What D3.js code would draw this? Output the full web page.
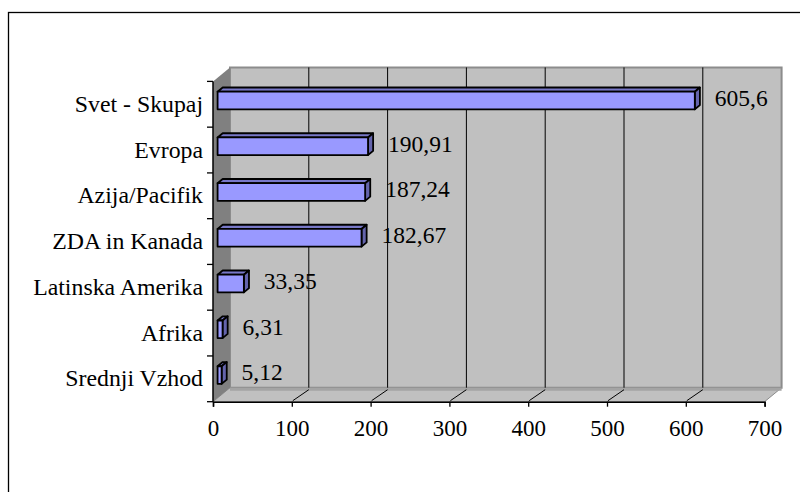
<!DOCTYPE html>
<html>
<head>
<meta charset="utf-8">
<script src="https://cdn.jsdelivr.net/npm/d3@7"></script>
<style>
  html, body { margin: 0; padding: 0; background: #fff; }
  svg { display: block; }
  text { font-family: "Liberation Serif", "Times New Roman", serif; fill: #000; }
</style>
</head>
<body>
<svg id="chart" width="800" height="492"></svg>
<script>
// Regions, top to bottom
const categories = ["Svet - Skupaj", "Evropa", "Azija/Pacifik", "ZDA in Kanada",
                    "Latinska Amerika", "Afrika", "Srednji Vzhod"];
const values = [605.6, 190.91, 187.24, 182.67, 33.35, 6.31, 5.12];
const valueLabels = ["605,6", "190,91", "187,24", "182,67", "33,35", "6,31", "5,12"];
const xTicks = [0, 100, 200, 300, 400, 500, 600, 700];

const FONT = "'Liberation Serif','Times New Roman',serif";
const svg = d3.select("#chart");

// Front-plane plot area and the 3D depth offset
const front = { left: 213, right: 764.6, top: 81.4, bottom: 401.7 };
const depth = { dx: 17, dy: -14 };
const P = (x, y, d) => [x + depth.dx * d, y + depth.dy * d];

const x = d3.scaleLinear().domain([0, 700]).range([front.left, front.right]);
const y = d3.scaleBand().domain(categories).range([front.top, front.bottom]).paddingInner(0).paddingOuter(0);

const line = d3.line();
const poly = pts => line(pts) + "Z";

// Outer chart frame
svg.append("rect")
  .attr("x", 8.5).attr("y", 12.5).attr("width", 820).attr("height", 520)
  .attr("fill", "#fff").attr("stroke", "#000").attr("stroke-width", 1.3);

// Back wall
svg.append("path")
  .attr("d", poly([P(front.left, front.top, 1), P(front.right, front.top, 1),
                   P(front.right, front.bottom, 1), P(front.left, front.bottom, 1)]))
  .attr("fill", "#c0c0c0").attr("stroke", "#8c8c8c").attr("stroke-width", 2);

// Floor
svg.append("path")
  .attr("d", poly([[front.left, front.bottom], [front.right, front.bottom],
                   P(front.right, front.bottom, 1), P(front.left, front.bottom, 1)]))
  .attr("fill", "#c0c0c0").attr("stroke", "#8c8c8c").attr("stroke-width", 1);
svg.append("line")
  .attr("x1", P(front.left, front.bottom, 1)[0]).attr("x2", P(front.right, front.bottom, 1)[0])
  .attr("y1", P(0, front.bottom, 1)[1] + 1.5).attr("y2", P(0, front.bottom, 1)[1] + 1.5)
  .attr("stroke", "#a4a4a4").attr("stroke-width", 3);

// Side wall
svg.append("path")
  .attr("d", poly([[front.left, front.top], P(front.left, front.top, 1),
                   P(front.left, front.bottom, 1), [front.left, front.bottom]]))
  .attr("fill", "#808080");

// Gridlines on the back wall and across the floor
const grid = xTicks.filter(v => v > 0 && v < 700);
svg.append("g").selectAll("line").data(grid).join("line")
  .attr("x1", v => P(x(v), front.top, 1)[0]).attr("x2", v => P(x(v), front.bottom, 1)[0])
  .attr("y1", P(0, front.top, 1)[1]).attr("y2", P(0, front.bottom, 1)[1])
  .attr("stroke", "#000").attr("stroke-width", 1);
svg.append("g").selectAll("line").data(grid).join("line")
  .attr("x1", v => P(x(v), front.bottom, 1)[0]).attr("y1", P(0, front.bottom, 1)[1] + 2)
  .attr("x2", v => x(v) + 1).attr("y2", front.bottom - 1)
  .attr("stroke", "#000").attr("stroke-width", 1);

// Axes
const xAxis = d3.axisBottom(x).tickValues(xTicks).tickSize(5).tickFormat(d3.format("d"));
const gx = svg.append("g").attr("transform", `translate(0,${front.bottom})`).call(xAxis)
  .attr("font-family", FONT).attr("font-size", 23);
gx.select(".domain").attr("stroke", "#000").attr("stroke-width", 1.5);
gx.selectAll(".tick line").attr("stroke", "#000").attr("stroke-width", 1.3);
gx.selectAll(".tick text")
  .attr("y", 0).attr("dy", 0).attr("transform", "translate(0,34.5)")
  .style("font-family", FONT).style("font-size", "23px").attr("fill", "#000");

const gy = svg.append("g").attr("transform", `translate(${front.left},0)`);
const yTickPos = d3.range(categories.length + 1).map(i => front.top + i * y.bandwidth());
gy.append("line").attr("x1", 0).attr("x2", 0).attr("y1", front.top).attr("y2", front.bottom)
  .attr("stroke", "#000").attr("stroke-width", 1.5);
gy.selectAll("line.tick").data(yTickPos).join("line").attr("class", "tick")
  .attr("x1", -6).attr("x2", 0).attr("y1", d => d).attr("y2", d => d)
  .attr("stroke", "#000").attr("stroke-width", 1.3);

svg.append("g").selectAll("text").data(categories).join("text")
  .attr("x", 203).attr("y", d => y(d) + y.bandwidth() / 2 + 7.5)
  .attr("text-anchor", "end").style("font-family", FONT).style("font-size", "23.8px").text(d => d);

// Bars: front, top and end faces
const barH = y.bandwidth() * 0.385;
const d1 = 0.27, d2 = 0.57;
const bars = svg.append("g").selectAll("g").data(categories).join("g");
bars.each(function (c, i) {
  const g = d3.select(this);
  const yc = y(c) + y.bandwidth() / 2;
  const yt = yc - barH / 2, yb = yc + barH / 2;
  const x0 = x(0), x1 = x(values[i]);
  const style = s => s.attr("stroke", "#000").attr("stroke-width", 1.8).attr("stroke-linejoin", "round");
  g.append("path").attr("d", poly([P(x0, yt, d1), P(x1, yt, d1), P(x1, yt, d2), P(x0, yt, d2)]))
    .attr("fill", "#7878c8").call(style);
  g.append("path").attr("d", poly([P(x1, yt, d1), P(x1, yt, d2), P(x1, yb, d2), P(x1, yb, d1)]))
    .attr("fill", "#6464ac").call(style);
  g.append("path").attr("d", poly([P(x0, yt, d1), P(x1, yt, d1), P(x1, yb, d1), P(x0, yb, d1)]))
    .attr("fill", "#9999ff").call(style);
  g.append("text")
    .attr("x", P(x1, yc, d1)[0] + 20).attr("y", yc + 1.5)
    .style("font-family", FONT).style("font-size", "23.5px").text(valueLabels[i]);
});
</script>
</body>
</html>
